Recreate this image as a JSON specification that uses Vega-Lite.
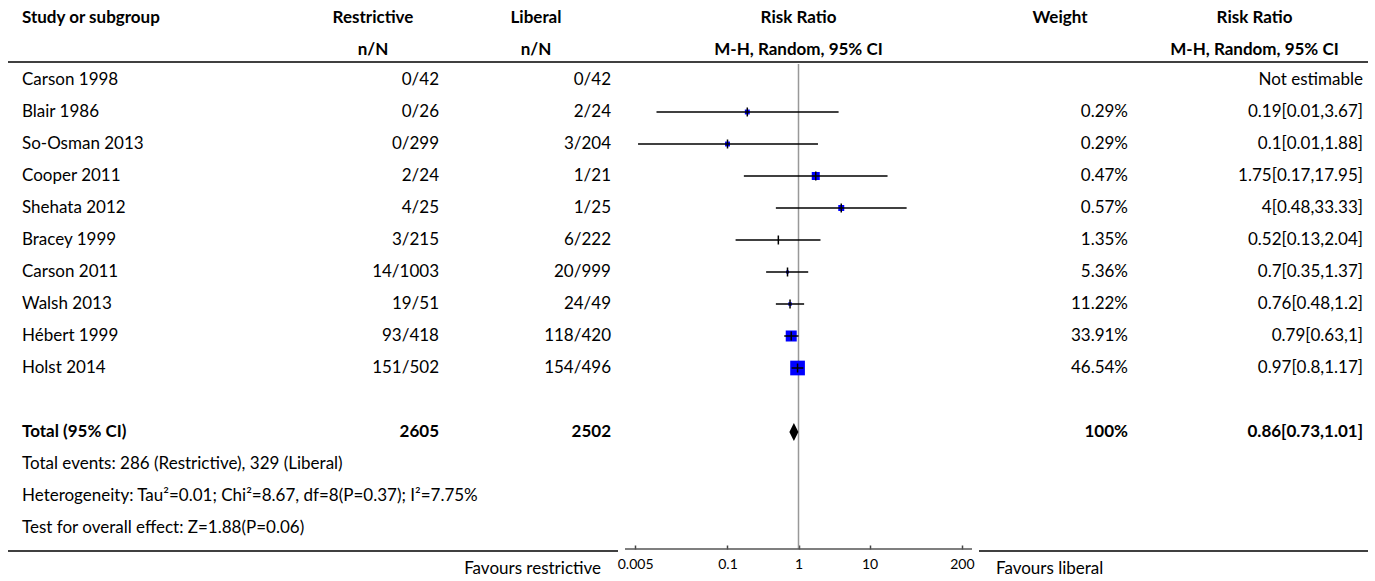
{
  "$schema": "https://vega.github.io/schema/vega-lite/v6.json",
  "padding": {"left": 7, "top": 0, "right": 0, "bottom": 0},
  "bounds": "flush",
  "spacing": 0,
  "config": {
    "font": "Lato",
    "view": {"stroke": null},
    "concat": {"spacing": 0}
  },
  "datasets": {
    "hdr": [
      {"r": 0, "c": "study", "t": "Study or subgroup"},
      {"r": 0, "c": "res", "t": "Restrictive"},
      {"r": 1, "c": "res", "t": "n/N"},
      {"r": 0, "c": "lib", "t": "Liberal"},
      {"r": 1, "c": "lib", "t": "n/N"},
      {"r": 0, "c": "plot", "t": "Risk Ratio"},
      {"r": 1, "c": "plot", "t": "M-H, Random, 95% CI"},
      {"r": 0, "c": "w", "t": "Weight"},
      {"r": 0, "c": "rr", "t": "Risk Ratio"},
      {"r": 1, "c": "rr", "t": "M-H, Random, 95% CI"}
    ],
    "fav": [
      {"c": "lib", "t": "Favours restrictive"},
      {"c": "w", "t": "Favours liberal"}
    ],
    "rows": [
      {"r": 2, "kind": "study", "study": "Carson 1998", "res": "0/42", "lib": "0/42", "w": "", "rrtxt": "Not estimable", "rr": null, "lo": null, "hi": null, "weight": null},
      {"r": 3, "kind": "study", "study": "Blair 1986", "res": "0/26", "lib": "2/24", "w": "0.29%", "rrtxt": "0.19[0.01,3.67]", "rr": 0.19, "lo": 0.01, "hi": 3.67, "weight": 0.29},
      {"r": 4, "kind": "study", "study": "So-Osman 2013", "res": "0/299", "lib": "3/204", "w": "0.29%", "rrtxt": "0.1[0.01,1.88]", "rr": 0.1, "lo": 0.0055, "hi": 1.88, "weight": 0.29},
      {"r": 5, "kind": "study", "study": "Cooper 2011", "res": "2/24", "lib": "1/21", "w": "0.47%", "rrtxt": "1.75[0.17,17.95]", "rr": 1.75, "lo": 0.17, "hi": 17.95, "weight": 0.47},
      {"r": 6, "kind": "study", "study": "Shehata 2012", "res": "4/25", "lib": "1/25", "w": "0.57%", "rrtxt": "4[0.48,33.33]", "rr": 4, "lo": 0.48, "hi": 33.33, "weight": 0.57},
      {"r": 7, "kind": "study", "study": "Bracey 1999", "res": "3/215", "lib": "6/222", "w": "1.35%", "rrtxt": "0.52[0.13,2.04]", "rr": 0.52, "lo": 0.13, "hi": 2.04, "weight": 1.35},
      {"r": 8, "kind": "study", "study": "Carson 2011", "res": "14/1003", "lib": "20/999", "w": "5.36%", "rrtxt": "0.7[0.35,1.37]", "rr": 0.7, "lo": 0.35, "hi": 1.37, "weight": 5.36},
      {"r": 9, "kind": "study", "study": "Walsh 2013", "res": "19/51", "lib": "24/49", "w": "11.22%", "rrtxt": "0.76[0.48,1.2]", "rr": 0.76, "lo": 0.48, "hi": 1.2, "weight": 11.22},
      {"r": 10, "kind": "study", "study": "Hébert 1999", "res": "93/418", "lib": "118/420", "w": "33.91%", "rrtxt": "0.79[0.63,1]", "rr": 0.79, "lo": 0.63, "hi": 1, "weight": 33.91},
      {"r": 11, "kind": "study", "study": "Holst 2014", "res": "151/502", "lib": "154/496", "w": "46.54%", "rrtxt": "0.97[0.8,1.17]", "rr": 0.97, "lo": 0.8, "hi": 1.17, "weight": 46.54},
      {"r": 13, "kind": "total", "study": "Total (95% CI)", "res": "2605", "lib": "2502", "w": "100%", "rrtxt": "0.86[0.73,1.01]", "rr": 0.86, "lo": 0.73, "hi": 1.01, "weight": 100},
      {"r": 14, "kind": "note", "study": "Total events: 286 (Restrictive), 329 (Liberal)"},
      {"r": 15, "kind": "note", "study": "Heterogeneity: Tau²=0.01; Chi²=8.67, df=8(P=0.37); I²=7.75%"},
      {"r": 16, "kind": "note", "study": "Test for overall effect: Z=1.88(P=0.06)"}
    ]
  },
  "hconcat": [
    {
      "width": 284, "height": 551,
      "layer": [
        {"data": {"name": "hdr"}, "transform": [{"filter": "datum.c==='study'"}], "mark": {"type": "text", "align": "left", "x": 0, "dx": 14, "dy": 2, "fontSize": 17, "fontWeight": "bold", "color": "black"},
          "encoding": {"y": {"field": "r", "type": "quantitative", "scale": {"domain": [-0.5, 16.71875], "reverse": true, "nice": false, "zero": false}, "axis": null}, "text": {"field": "t"}}},
        {"data": {"name": "rows"}, "transform": [{"filter": "datum.kind!=='total'"}], "mark": {"type": "text", "align": "left", "x": 0, "dx": 14, "fontSize": 17, "color": "black"},
          "encoding": {"y": {"field": "r", "type": "quantitative"}, "text": {"field": "study"}}},
        {"data": {"name": "rows"}, "transform": [{"filter": "datum.kind==='total'"}], "mark": {"type": "text", "align": "left", "x": 0, "dx": 14, "fontSize": 17, "fontWeight": "bold", "color": "black"},
          "encoding": {"y": {"field": "r", "type": "quantitative"}, "text": {"field": "study"}}},
        {"data": {"values": [{}]}, "mark": {"type": "rule", "color": "black", "strokeWidth": 1.5}, "encoding": {"y": {"datum": 1.4375, "type": "quantitative"}}},
        {"data": {"values": [{}]}, "mark": {"type": "rule", "color": "black", "strokeWidth": 1.5}, "encoding": {"y": {"datum": 16.71875, "type": "quantitative"}}}
      ]
    },
    {
      "width": 162, "height": 551,
      "layer": [
        {"data": {"name": "hdr"}, "transform": [{"filter": "datum.c==='res'"}], "mark": {"type": "text", "align": "center", "dy": 2, "fontSize": 17, "fontWeight": "bold", "color": "black"},
          "encoding": {"y": {"field": "r", "type": "quantitative", "scale": {"domain": [-0.5, 16.71875], "reverse": true, "nice": false, "zero": false}, "axis": null}, "text": {"field": "t"}}},
        {"data": {"name": "rows"}, "transform": [{"filter": "datum.kind==='study'"}], "mark": {"type": "text", "align": "right", "x": "width", "dx": -15, "fontSize": 17, "color": "black"},
          "encoding": {"y": {"field": "r", "type": "quantitative"}, "text": {"field": "res"}}},
        {"data": {"name": "rows"}, "transform": [{"filter": "datum.kind==='total'"}], "mark": {"type": "text", "align": "right", "x": "width", "dx": -15, "fontSize": 17, "fontWeight": "bold", "color": "black"},
          "encoding": {"y": {"field": "r", "type": "quantitative"}, "text": {"field": "res"}}},
        {"data": {"values": [{}]}, "mark": {"type": "rule", "color": "black", "strokeWidth": 1.5}, "encoding": {"y": {"datum": 1.4375, "type": "quantitative"}}},
        {"data": {"values": [{}]}, "mark": {"type": "rule", "color": "black", "strokeWidth": 1.5}, "encoding": {"y": {"datum": 16.71875, "type": "quantitative"}}}
      ]
    },
    {
      "width": 164, "height": 551,
      "layer": [
        {"data": {"name": "hdr"}, "transform": [{"filter": "datum.c==='lib'"}], "mark": {"type": "text", "align": "center", "dy": 2, "fontSize": 17, "fontWeight": "bold", "color": "black"},
          "encoding": {"y": {"field": "r", "type": "quantitative", "scale": {"domain": [-0.5, 16.71875], "reverse": true, "nice": false, "zero": false}, "axis": null}, "text": {"field": "t"}}},
        {"data": {"name": "rows"}, "transform": [{"filter": "datum.kind==='study'"}], "mark": {"type": "text", "align": "right", "x": "width", "dx": -7, "fontSize": 17, "color": "black"},
          "encoding": {"y": {"field": "r", "type": "quantitative"}, "text": {"field": "lib"}}},
        {"data": {"name": "rows"}, "transform": [{"filter": "datum.kind==='total'"}], "mark": {"type": "text", "align": "right", "x": "width", "dx": -7, "fontSize": 17, "fontWeight": "bold", "color": "black"},
          "encoding": {"y": {"field": "r", "type": "quantitative"}, "text": {"field": "lib"}}},
        {"data": {"name": "fav"}, "transform": [{"filter": "datum.c==='lib'"}], "mark": {"type": "text", "align": "right", "x": "width", "dx": -17, "fontSize": 17, "color": "black"},
          "encoding": {"y": {"datum": 17.28, "type": "quantitative"}, "text": {"field": "t"}}},
        {"data": {"values": [{}]}, "mark": {"type": "rule", "color": "black", "strokeWidth": 1.5}, "encoding": {"y": {"datum": 1.4375, "type": "quantitative"}}},
        {"data": {"values": [{}]}, "mark": {"type": "rule", "color": "black", "strokeWidth": 1.5}, "encoding": {"y": {"datum": 16.71875, "type": "quantitative"}}}
      ]
    },
    {
      "width": 361, "height": 551,
      "layer": [
        {"data": {"name": "hdr"}, "transform": [{"filter": "datum.c==='plot'"}], "mark": {"type": "text", "align": "center", "dy": 2, "fontSize": 17, "fontWeight": "bold", "color": "black"},
          "encoding": {"y": {"field": "r", "type": "quantitative", "scale": {"domain": [-0.5, 16.71875], "reverse": true, "nice": false, "zero": false}, "axis": null}, "text": {"field": "t"}}},
        {"data": {"values": [{}]}, "mark": {"type": "rule", "color": "black", "strokeWidth": 1.5}, "encoding": {"y": {"datum": 1.4375, "type": "quantitative"}}},
        {"data": {"values": [{}]}, "mark": {"type": "rule", "color": "#999999", "strokeWidth": 1.5},
          "encoding": {
            "x": {"datum": 1, "type": "quantitative", "scale": {"type": "log", "domain": [0.00287, 348.4], "nice": false},
              "axis": {"values": [0.005, 0.1, 1, 10, 200], "format": "~g", "domain": false, "grid": false, "ticks": true, "tickSize": -4, "tickColor": "#444444", "tickWidth": 1.5, "labelFontSize": 14, "labelColor": "black", "labelPadding": 12, "title": null, "offset": -2, "labelFlush": false, "labelOverlap": false}},
            "y": {"datum": 1.5, "type": "quantitative"}, "y2": {"datum": 16.656}}},
        {"data": {"name": "rows"}, "transform": [{"filter": "datum.kind==='study' && isValid(datum.weight)"}],
          "mark": {"type": "point", "shape": "square", "filled": true, "color": "#0000ff", "opacity": 1, "strokeWidth": 0},
          "encoding": {
            "x": {"field": "rr", "type": "quantitative", "title": null},
            "y": {"field": "r", "type": "quantitative"},
            "size": {"field": "weight", "type": "quantitative", "legend": null, "scale": {"type": "linear", "domain": [0.29, 0.47, 0.57, 1.35, 5.36, 11.22, 33.91, 46.54], "range": [24, 64, 36, 1, 9, 12, 121, 216]}}}},
        {"data": {"name": "rows"}, "transform": [{"filter": "datum.kind==='study' && isValid(datum.lo)"}],
          "mark": {"type": "rule", "color": "black", "strokeWidth": 1.5},
          "encoding": {"x": {"field": "lo", "type": "quantitative", "title": null}, "x2": {"field": "hi"}, "y": {"field": "r", "type": "quantitative"}}},
        {"data": {"name": "rows"}, "transform": [{"filter": "datum.kind==='study' && isValid(datum.rr)"}],
          "mark": {"type": "tick", "orient": "vertical", "size": 9, "thickness": 1.5, "color": "black", "opacity": 1},
          "encoding": {"x": {"field": "rr", "type": "quantitative", "title": null}, "y": {"field": "r", "type": "quantitative"}}},
        {"data": {"name": "rows"}, "transform": [{"filter": "datum.kind==='total'"}],
          "mark": {"type": "point", "shape": "M-0.5,0L0,-1L0.5,0L0,1Z", "size": 324, "filled": true, "color": "black", "opacity": 1, "strokeWidth": 0},
          "encoding": {"x": {"field": "rr", "type": "quantitative", "title": null}, "y": {"field": "r", "type": "quantitative"}}},
        {"data": {"values": [{}]}, "mark": {"type": "rule", "color": "#555555", "strokeWidth": 1.5},
          "encoding": {"x": {"datum": 0.0036, "type": "quantitative"}, "x2": {"datum": 278}, "y": {"datum": 16.656, "type": "quantitative"}}}
      ]
    },
    {
      "width": 162, "height": 551,
      "layer": [
        {"data": {"name": "hdr"}, "transform": [{"filter": "datum.c==='w'"}], "mark": {"type": "text", "align": "center", "dy": 2, "fontSize": 17, "fontWeight": "bold", "color": "black"},
          "encoding": {"y": {"field": "r", "type": "quantitative", "scale": {"domain": [-0.5, 16.71875], "reverse": true, "nice": false, "zero": false}, "axis": null}, "text": {"field": "t"}}},
        {"data": {"name": "rows"}, "transform": [{"filter": "datum.kind==='study'"}], "mark": {"type": "text", "align": "right", "x": "width", "dx": -13, "fontSize": 17, "color": "black"},
          "encoding": {"y": {"field": "r", "type": "quantitative"}, "text": {"field": "w"}}},
        {"data": {"name": "rows"}, "transform": [{"filter": "datum.kind==='total'"}], "mark": {"type": "text", "align": "right", "x": "width", "dx": -13, "fontSize": 17, "fontWeight": "bold", "color": "black"},
          "encoding": {"y": {"field": "r", "type": "quantitative"}, "text": {"field": "w"}}},
        {"data": {"name": "fav"}, "transform": [{"filter": "datum.c==='w'"}], "mark": {"type": "text", "align": "left", "x": 0, "dx": 17, "fontSize": 17, "color": "black"},
          "encoding": {"y": {"datum": 17.28, "type": "quantitative"}, "text": {"field": "t"}}},
        {"data": {"values": [{}]}, "mark": {"type": "rule", "color": "black", "strokeWidth": 1.5}, "encoding": {"y": {"datum": 1.4375, "type": "quantitative"}}},
        {"data": {"values": [{}]}, "mark": {"type": "rule", "color": "black", "strokeWidth": 1.5}, "encoding": {"y": {"datum": 16.71875, "type": "quantitative"}}}
      ]
    },
    {
      "width": 227, "height": 551,
      "layer": [
        {"data": {"name": "hdr"}, "transform": [{"filter": "datum.c==='rr'"}], "mark": {"type": "text", "align": "center", "dy": 2, "fontSize": 17, "fontWeight": "bold", "color": "black"},
          "encoding": {"y": {"field": "r", "type": "quantitative", "scale": {"domain": [-0.5, 16.71875], "reverse": true, "nice": false, "zero": false}, "axis": null}, "text": {"field": "t"}}},
        {"data": {"name": "rows"}, "transform": [{"filter": "datum.kind==='study'"}], "mark": {"type": "text", "align": "right", "x": "width", "dx": -5, "fontSize": 17, "color": "black"},
          "encoding": {"y": {"field": "r", "type": "quantitative"}, "text": {"field": "rrtxt"}}},
        {"data": {"name": "rows"}, "transform": [{"filter": "datum.kind==='total'"}], "mark": {"type": "text", "align": "right", "x": "width", "dx": -5, "fontSize": 17, "fontWeight": "bold", "color": "black"},
          "encoding": {"y": {"field": "r", "type": "quantitative"}, "text": {"field": "rrtxt"}}},
        {"data": {"values": [{}]}, "mark": {"type": "rule", "color": "black", "strokeWidth": 1.5}, "encoding": {"y": {"datum": 1.4375, "type": "quantitative"}}},
        {"data": {"values": [{}]}, "mark": {"type": "rule", "color": "black", "strokeWidth": 1.5}, "encoding": {"y": {"datum": 16.71875, "type": "quantitative"}}}
      ]
    }
  ]
}
